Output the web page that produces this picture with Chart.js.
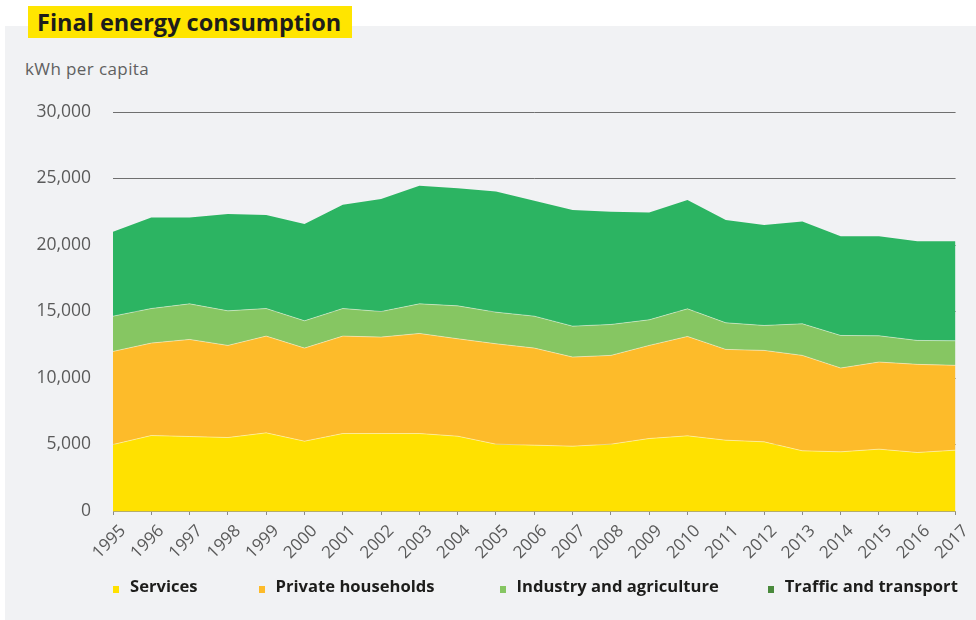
<!DOCTYPE html>
<html>
<head>
<meta charset="utf-8">
<script src="https://cdn.jsdelivr.net/npm/chart.js@4/dist/chart.umd.min.js"></script>
<style>
  html, body { margin: 0; padding: 0; background: #ffffff; }
  #wrap { position: relative; width: 976px; height: 620px; overflow: hidden; }
  #panel { position: absolute; left: 5px; top: 26px; right: 0; bottom: 0; background: #f1f2f4; }
  #title { position: absolute; left: 28px; top: 6px; height: 32px; width: 324px; background: #ffe500;
           font-family: "Open Sans", sans-serif; font-weight: 700; font-size: 23.5px; line-height: 32px;
           color: #1d1d1b; padding-left: 9px; box-sizing: border-box; white-space: nowrap; }
  #unit { position: absolute; left: 25px; top: 57px; font-family: "Open Sans", sans-serif; font-size: 17px;
          letter-spacing: 0.4px; color: #606060; }
  #c { position: absolute; left: 0; top: 0; }
  #legend { position: absolute; left: 113px; top: 574px; display: flex; align-items: center;
            font-family: "Open Sans", sans-serif; font-weight: 700; font-size: 16.6px; color: #1d1d1b; white-space: nowrap; }
  #legend .item { display: flex; align-items: center; }
  #legend .box { width: 6px; height: 7px; margin-right: 11px; margin-top: 7px; }
</style>
</head>
<body>
<div id="wrap">
  <div id="panel"></div>
  <div id="title">Final energy consumption</div>
  <div id="unit">kWh per capita</div>
  <canvas id="c" width="976" height="620"></canvas>
  <div id="legend"></div>
</div>
<script>
const years = ["1995","1996","1997","1998","1999","2000","2001","2002","2003","2004","2005","2006","2007","2008","2009","2010","2011","2012","2013","2014","2015","2016","2017"];
const services = [5000,5675,5600,5525,5875,5250,5825,5825,5825,5625,5025,4950,4875,5025,5450,5650,5325,5200,4525,4450,4650,4400,4575];
const privateHouseholds = [7000,6950,7300,6925,7275,7000,7325,7250,7525,7325,7550,7300,6700,6675,7000,7475,6825,6875,7175,6300,6550,6625,6375];
const industryAgriculture = [2650,2600,2675,2600,2075,2050,2075,1925,2225,2475,2375,2400,2325,2325,1925,2075,2000,1875,2375,2450,1975,1800,1850];
const trafficTransport = [6350,6850,6500,7275,7025,7275,7800,8450,8875,8850,9075,8675,8725,8475,8075,8175,7725,7550,7700,7450,7475,7450,7475];
const seriesNames = ["Services","Private households","Industry and agriculture","Traffic and transport"];

const fillColors = ["#ffe100","#fdbb2a","#86c662","#2cb462"];
const legendColors = ["#ffe100","#fdbb2a","#86c662","#4a8a3c"];
const legendGaps = [61, 65, 49, 0];
const seriesValues = [services, privateHouseholds, industryAgriculture, trafficTransport];

const FONT = '"Open Sans", sans-serif';

const datasets = seriesValues.map((vals, i) => ({
  label: seriesNames[i],
  data: vals,
  backgroundColor: fillColors[i],
  borderColor: i === 3 ? fillColors[i] : 'rgba(255,255,255,0.55)',
  borderWidth: i === 3 ? 0 : 0.8,
  fill: i === 0 ? 'origin' : '-1',
  pointRadius: 0,
  tension: 0
}));

const htmlLegend = {
  id: 'htmlLegend',
  afterUpdate(chart) {
    const el = document.getElementById('legend');
    el.innerHTML = '';
    chart.data.datasets.forEach((ds, i) => {
      const item = document.createElement('div');
      item.className = 'item';
      item.style.marginRight = legendGaps[i] + 'px';
      const box = document.createElement('span');
      box.className = 'box';
      box.style.background = legendColors[i];
      const txt = document.createElement('span');
      txt.textContent = ds.label;
      item.appendChild(box);
      item.appendChild(txt);
      el.appendChild(item);
    });
  }
};

new Chart(document.getElementById('c'), {
  type: 'line',
  data: { labels: years, datasets },
  plugins: [htmlLegend],
  options: {
    responsive: false,
    animation: false,
    layout: { padding: { top: 112, left: 0, right: 18, bottom: 0 } },
    plugins: {
      tooltip: { enabled: false },
      legend: { display: false }
    },
    scales: {
      x: {
        type: 'category',
        offset: false,
        grid: { display: true, drawOnChartArea: false, drawTicks: true, tickLength: 4, color: '#8a8a8a' },
        border: { display: true, color: '#b5ad6a', width: 1 },
        ticks: {
          minRotation: 45, maxRotation: 45, autoSkip: false, padding: 6, labelOffset: 10,
          color: '#5a5a5a', font: { family: FONT, size: 17 }
        },
        afterFit(scale) { scale.height = 109; }
      },
      y: {
        stacked: true,
        min: 0, max: 30000,
        grid: { color: '#6f6f6f', lineWidth: 1, drawTicks: false },
        border: { display: false },
        ticks: {
          stepSize: 5000, padding: 22,
          color: '#5a5a5a', font: { family: FONT, size: 17.5 },
          callback: v => v.toLocaleString('en-US')
        },
        afterFit(scale) { scale.width = 113; }
      }
    }
  }
});
</script>
</body>
</html>
